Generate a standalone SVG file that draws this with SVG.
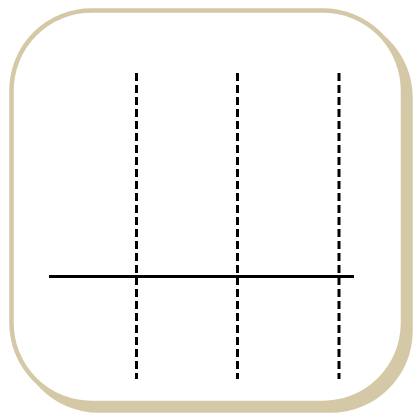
<svg xmlns="http://www.w3.org/2000/svg" width="420" height="420" viewBox="0 0 420 420">
<style>
.frame{fill:#fff;stroke:#d5c8a6;stroke-width:4.5}
.shadow{fill:#d5c8a6}
.dash{stroke:#000;stroke-width:3;stroke-dasharray:8 4;fill:none}
.axis{stroke:#000;stroke-width:3;fill:none}
</style>
<rect class="shadow" x="16.75" y="15.75" width="396" height="397" rx="82"/>
<rect class="frame" x="11.5" y="10.5" width="391.5" height="392.5" rx="80"/>
<g id="connectors">
<line class="axis" x1="49" y1="276.5" x2="354" y2="276.5"/>
<line class="dash" x1="136.5" y1="73" x2="136.5" y2="379"/>
<line class="dash" x1="237.5" y1="73" x2="237.5" y2="379"/>
<line class="dash" x1="339" y1="73" x2="339" y2="379"/>
</g>
</svg>
